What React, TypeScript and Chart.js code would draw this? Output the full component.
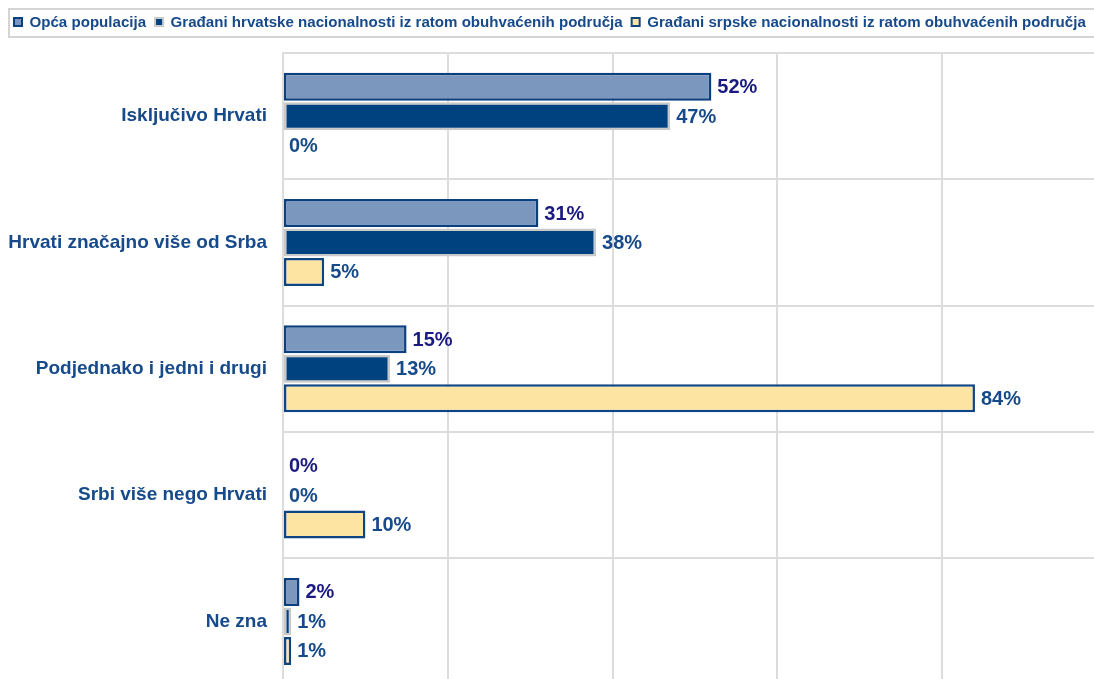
import React, { useEffect, useRef } from "react";
import { Chart, registerables } from "chart.js";

Chart.register(...registerables);

const categories = [
  "Isključivo Hrvati",
  "Hrvati značajno više od Srba",
  "Podjednako i jedni i drugi",
  "Srbi više nego Hrvati",
  "Ne zna",
];
const seriesNames = [
  "Opća populacija",
  "Građani hrvatske nacionalnosti iz ratom obuhvaćenih područja",
  "Građani srpske nacionalnosti iz ratom obuhvaćenih područja",
];
const opcaValues = [52, 31, 15, 0, 2];
const hrvatskeValues = [47, 38, 13, 0, 1];
const srpskeValues = [0, 5, 84, 10, 1];

const FONT = "'Liberation Sans', Arial, Helvetica, sans-serif";
const fills = ["#7b97be", "#00427f", "#fde4a2"];
const borders = ["#0b3f7f", "#c9c9c9", "#0d4585"];
const labelColors = ["#1a1a80", "#174a8a", "#174a8a"];
const GRID = "#dcdcdc";

const legendPlugin = {
  id: "customLegend",
  afterDraw(chart: any) {
    const ctx = chart.ctx;
    ctx.save();
    ctx.strokeStyle = "#d4d4d4";
    ctx.lineWidth = 2;
    ctx.strokeRect(9, 9, chart.width + 20, 28);
    ctx.font = `bold 15.1px ${FONT}`;
    ctx.textBaseline = "middle";
    ctx.textAlign = "left";
    let x = 13;
    const y = 22;
    chart.data.datasets.forEach((ds: any, i: number) => {
      ctx.fillStyle = borders[i];
      ctx.fillRect(x, y - 5, 10, 10);
      ctx.fillStyle = fills[i];
      ctx.fillRect(x + 2, y - 3, 6, 6);
      const tx = x + 16.5;
      ctx.fillStyle = "#174a8a";
      ctx.fillText(ds.label, tx, y + 0.5);
      x = tx + ctx.measureText(ds.label).width + 8;
    });
    ctx.restore();
  },
};

const dataLabelPlugin = {
  id: "dataLabels",
  afterDatasetsDraw(chart: any) {
    const ctx = chart.ctx;
    ctx.save();
    ctx.font = `bold 20px ${FONT}`;
    ctx.textBaseline = "middle";
    ctx.textAlign = "left";
    chart.data.datasets.forEach((ds: any, i: number) => {
      const meta = chart.getDatasetMeta(i);
      meta.data.forEach((bar: any, j: number) => {
        ctx.fillStyle = labelColors[i];
        ctx.fillText(`${ds.data[j]}%`, bar.x + 6, bar.y + 1);
      });
    });
    ctx.restore();
  },
};

export default function App() {
  const ref = useRef<HTMLCanvasElement>(null);
  useEffect(() => {
    const values = [opcaValues, hrvatskeValues, srpskeValues];
    const chart = new Chart(ref.current as HTMLCanvasElement, {
      type: "bar",
      data: {
        labels: categories,
        datasets: seriesNames.map((name, i) => ({
          label: name,
          data: values[i],
          backgroundColor: fills[i],
          borderColor: borders[i],
          borderWidth: 2.5,
          borderSkipped: false,
          categoryPercentage: 0.7,
          barPercentage: 0.95,
        })),
      },
      options: {
        indexAxis: "y",
        responsive: false,
        animation: false,
        devicePixelRatio: 1,
        layout: { padding: { top: 53, left: 0, right: 0, bottom: 0 } },
        plugins: {
          legend: { display: false },
          tooltip: { enabled: false },
        },
        scales: {
          x: {
            min: 0,
            max: 98.45,
            ticks: { display: false, stepSize: 20 },
            grid: {
              drawTicks: false,
              lineWidth: 2,
              color: (c: any) =>
                c.tick && c.tick.value % 20 === 0 ? GRID : "rgba(0,0,0,0)",
            },
            border: { display: false },
            afterFit: (s: any) => {
              s.height = 0;
            },
          },
          y: {
            ticks: {
              color: "#174a8a",
              font: { family: FONT, size: 19, weight: "bold" },
              padding: 16,
            },
            grid: { drawTicks: false, color: GRID, lineWidth: 2, offset: true },
            border: { display: true, color: GRID, width: 2 },
            afterFit: (s: any) => {
              s.width = 283;
            },
          },
        },
      },
      plugins: [legendPlugin, dataLabelPlugin],
    } as any);
    return () => chart.destroy();
  }, []);
  return (
    <div
      style={{
        position: "fixed",
        left: 0,
        top: 0,
        width: 1094,
        height: 679,
        overflow: "hidden",
        background: "#fff",
      }}
    >
      <canvas ref={ref} width={1094} height={712} style={{ display: "block" }} />
    </div>
  );
}
